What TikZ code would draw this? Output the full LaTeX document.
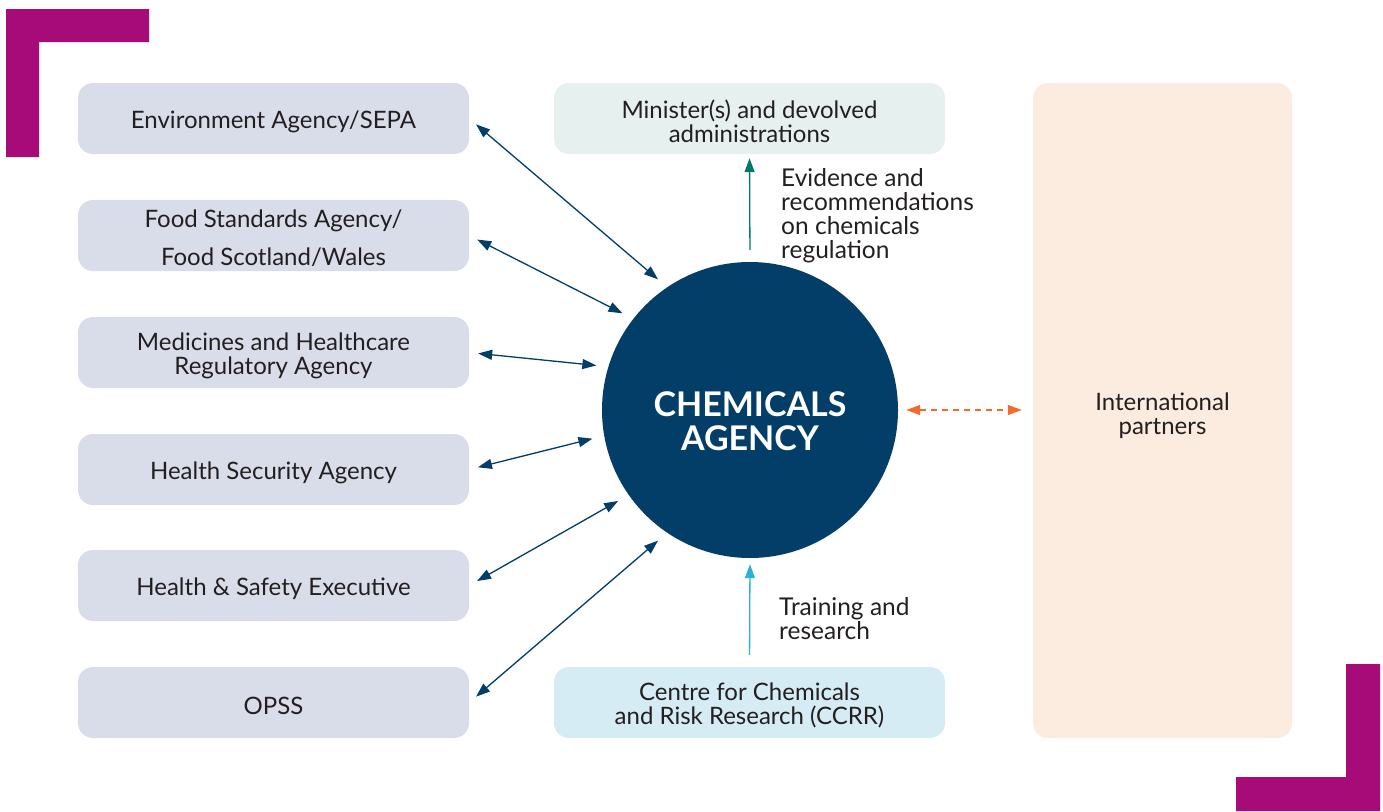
\documentclass[tikz,border=0pt]{standalone}
\usepackage{fontspec}
\setmainfont{Lato}
\usetikzlibrary{arrows.meta}
\definecolor{navy}{HTML}{023E68}
\definecolor{boxgrey}{HTML}{D9DDE9}
\definecolor{minfill}{HTML}{E6F0EF}
\definecolor{ccrrfill}{HTML}{D6ECF4}
\definecolor{intlfill}{HTML}{FCEBDF}
\definecolor{magentabar}{HTML}{A60B77}
\definecolor{teal}{HTML}{00796B}
\definecolor{skyblue}{HTML}{2BB1D9}
\definecolor{orangeline}{HTML}{F26A2E}
\definecolor{inktext}{HTML}{231F20}
\tikzset{
  agencybox/.style={rounded corners=15pt, minimum width=391pt, minimum height=71pt, inner sep=0pt},
  boxtext/.style={align=center, font=\fontsize{24}{24}\selectfont, text=inktext, inner sep=0pt, yshift=-3pt},
  link/.style={navy, line width=1.3pt, {Triangle[length=14pt,width=10pt]}-{Triangle[length=14pt,width=10pt]},
    shorten <=9pt, shorten >=12pt},
  flowtip/.style={line width=1.3pt, -{Triangle[length=14pt,width=10pt]}},
  note/.style={align=left, font=\fontsize{24.5}{24}\selectfont, text=inktext, inner sep=0pt},
}
\begin{document}
\begin{tikzpicture}[x=1pt,y=-1pt]
\useasboundingbox (0,0) rectangle (1383,811);
% corner brackets
\fill[magentabar] (6,9) -- (149,9) -- (149,42) -- (39,42) -- (39,157) -- (6,157) -- cycle;
\fill[magentabar] (1380,664) -- (1380,811) -- (1236,811) -- (1236,777) -- (1346,777) -- (1346,664) -- cycle;

% partner bodies on the left
\node[agencybox, fill=boxgrey, label={[boxtext]center:Environment Agency/SEPA}] (b1) at (273.5,118.5) {};
\node[agencybox, fill=boxgrey, label={[boxtext]center:{Food Standards Agency/\\[14pt]Food Scotland/Wales}}] (b2) at (273.5,235.5) {};
\node[agencybox, fill=boxgrey, label={[boxtext]center:{Medicines and Healthcare\\Regulatory Agency}}] (b3) at (273.5,352.5) {};
\node[agencybox, fill=boxgrey, label={[boxtext]center:Health Security Agency}] (b4) at (273.5,469.5) {};
\node[agencybox, fill=boxgrey, label={[boxtext]center:Health \& Safety Executive}] (b5) at (273.5,585.5) {};
\node[agencybox, fill=boxgrey, label={[boxtext]center:OPSS}] (b6) at (273.5,702.5) {};

% government and research
\node[agencybox, fill=minfill, label={[boxtext]center:{Minister(s) and devolved\\administrations}}] (min) at (749.5,118.5) {};
\node[agencybox, fill=ccrrfill, label={[boxtext]center:{Centre for Chemicals\\and Risk Research (CCRR)}}] (ccrr) at (749.5,702.5) {};

% international partners
\node[rounded corners=15pt, fill=intlfill, minimum width=259pt, minimum height=655pt, inner sep=0pt] (intl) at (1162.5,410.5) {};
\node[boxtext] (intltext) at (1162.5,413) {International\\partners};

% central agency
\node[circle, fill=navy, minimum size=296pt, inner sep=0pt] (ca) at (750,410) {};
\node[align=center, text=white, inner sep=0pt, font=\fontsize{34}{34}\selectfont\bfseries] (catext) at (750,421) {CHEMICALS\\AGENCY};

% two-way links
\draw[link] (b1.east) -- (ca.124);
\draw[link] (b2.east) -- (ca.142);
\draw[link] (b3.east) -- (ca.163);
\draw[link] (b4.east) -- (ca.190);
\draw[link] (b5.east) -- (ca.215);
\draw[link] (b6.east) -- (ca.236);

% one-way flows
\draw[flowtip, teal, shorten <=12pt, shorten >=4pt] (ca.north) -- (min.south);
\draw[flowtip, skyblue, shorten <=12pt, shorten >=6pt] (ccrr.north) -- (ca.south);
\draw[orangeline, line width=1.3pt, dash pattern=on 6pt off 5pt,
  {Triangle[length=14pt,width=10pt]}-{Triangle[length=14pt,width=10pt]}, shorten <=8pt, shorten >=11pt]
  (ca.east) -- (intl.west |- ca.east);

% flow labels
\node[note, anchor=north west] (evid) at (781,168) {Evidence and\\recommendations\\on chemicals\\regulation};
\node[note, anchor=north west] (train) at (779,597) {Training and\\research};
\end{tikzpicture}
\end{document}
